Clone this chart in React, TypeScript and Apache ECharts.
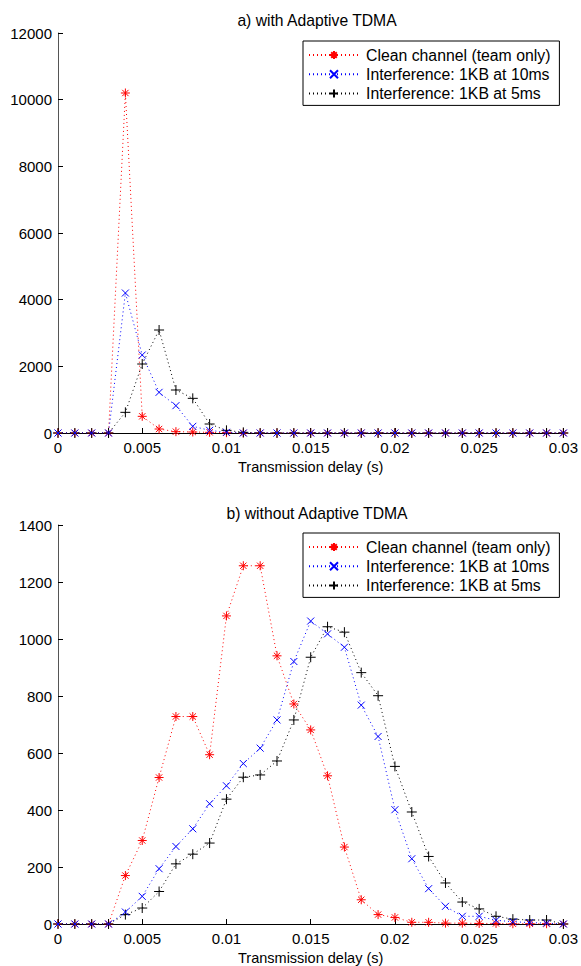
import React, { useEffect, useRef } from "react";
import * as echarts from "echarts";

const delays = Array.from({ length: 31 }, (_, i) => +(i * 0.001).toFixed(3));
const seriesNames = [
  "Clean channel (team only)",
  "Interference: 1KB at 10ms",
  "Interference: 1KB at 5ms",
];

// a) with Adaptive TDMA
const aClean = [0, 0, 0, 0, 10200, 500, 120, 40, 30, 20, 10, 0, 0, 0, 0, 0, 0, 0, 0, 0, 0, 0, 0, 0, 0, 0, 0, 0, 0, 0, 0];
const a10ms = [0, 0, 0, 0, 4200, 2340, 1220, 820, 200, 80, 20, 0, 0, 0, 0, 0, 0, 0, 0, 0, 0, 0, 0, 0, 0, 0, 0, 0, 0, 0, 0];
const a5ms = [0, 0, 0, 0, 620, 2070, 3090, 1290, 1040, 270, 80, 20, 0, 0, 0, 0, 0, 0, 0, 0, 0, 0, 0, 0, 0, 0, 0, 0, 0, 0, 0];

// b) without Adaptive TDMA
const bClean = [0, 0, 0, 0, 170, 293, 514, 728, 728, 594, 1081, 1257, 1257, 941, 772, 681, 520, 270, 85, 33, 23, 6, 6, 3, 3, 2, 2, 1, 1, 1, 0];
const b10ms = [0, 0, 0, 0, 42, 97, 194, 272, 334, 422, 485, 563, 617, 716, 921, 1063, 1018, 971, 768, 658, 401, 229, 124, 62, 27, 27, 13, 8, 5, 3, 0];
const b5ms = [0, 0, 0, 0, 33, 56, 114, 211, 245, 284, 438, 515, 523, 572, 716, 936, 1043, 1024, 882, 801, 553, 393, 237, 144, 77, 53, 27, 17, 14, 14, 0];

const FONT = "Liberation Sans";
const colors = ["#ff0000", "#0000ff", "#000000"];
const symbols = [
  "path://M5 0L5 10M0 5L10 5M1.5 1.5L8.5 8.5M8.5 1.5L1.5 8.5",
  "path://M0 0L10 10M10 0L0 10",
  "path://M5 0L5 10M0 5L10 5",
];
const symbolSizes = [9, 7, 10];

export default function App() {
  const ref = useRef<HTMLDivElement>(null);
  useEffect(() => {
    if (!ref.current) return;
    const chart = echarts.init(ref.current, null, { renderer: "svg" });
    const mk = (name: string, idx: number, data: number[], gi: number) => ({
      name,
      type: "line",
      xAxisIndex: gi,
      yAxisIndex: gi,
      data: delays.map((d, i) => [d, data[i]]),
      symbol: symbols[idx],
      symbolSize: symbolSizes[idx],
      showAllSymbol: true,
      z: idx === 1 ? 4 : idx === 2 ? 3 : 2,
      lineStyle: { color: colors[idx], width: 1, type: [1, 3] },
      itemStyle: { color: "transparent", borderColor: colors[idx], borderWidth: 1 },
      emphasis: { disabled: true },
    });
    const xAxis = (gi: number) => ({
      type: "value",
      gridIndex: gi,
      min: 0,
      max: 0.03,
      interval: 0.005,
      name: "Transmission delay (s)",
      nameLocation: "middle",
      nameGap: 26,
      nameTextStyle: { fontFamily: FONT, fontSize: 14.5, color: "#000" },
      axisLine: { lineStyle: { color: "#000", width: 1 } },
      axisTick: { inside: true, length: 5, lineStyle: { color: "#000" } },
      axisLabel: {
        fontFamily: FONT,
        fontSize: 15,
        color: "#000",
        margin: 7,
        formatter: (v: number) => String(+v.toFixed(3)),
      },
      splitLine: { show: false },
    });
    const yAxis = (gi: number, max: number, interval: number) => ({
      type: "value",
      gridIndex: gi,
      min: 0,
      max,
      interval,
      axisLine: { show: true, lineStyle: { color: "#555", width: 1 } },
      axisTick: { show: true, inside: true, length: 5, lineStyle: { color: "#000" } },
      axisLabel: {
        fontFamily: FONT,
        fontSize: 15,
        color: "#000",
        margin: 6,
        formatter: (v: number) => String(Math.round(v)),
      },
      splitLine: { show: false },
    });
    const legend = (top: number) => ({
      orient: "vertical",
      left: 303,
      top,
      data: seriesNames,
      itemWidth: 50,
      itemHeight: 10,
      itemGap: 3.2,
      padding: [6, 9, 4, 5],
      borderColor: "#000",
      borderWidth: 1,
      backgroundColor: "#fff",
      selectedMode: false,
      textStyle: { fontFamily: FONT, fontSize: 15.8, color: "#000", padding: [0, 0, 0, 2] },
    });
    const titleStyle = { fontFamily: FONT, fontSize: 15.7, fontWeight: "normal", color: "#000" };
    chart.setOption({
      animation: false,
      backgroundColor: "#fff",
      title: [
        { text: "a) with Adaptive TDMA", left: 312, top: 7, textAlign: "center", textStyle: titleStyle },
        { text: "b) without Adaptive TDMA", left: 312, top: 500, textAlign: "center", textStyle: titleStyle },
      ],
      legend: [legend(41), legend(533)],
      grid: [
        { left: 58, right: 14, top: 33, height: 400 },
        { left: 58, right: 14, top: 525, height: 400 },
      ],
      xAxis: [xAxis(0), xAxis(1)],
      yAxis: [yAxis(0, 12000, 2000), yAxis(1, 1400, 200)],
      series: [
        mk(seriesNames[0], 0, aClean, 0),
        mk(seriesNames[1], 1, a10ms, 0),
        mk(seriesNames[2], 2, a5ms, 0),
        mk(seriesNames[0], 0, bClean, 1),
        mk(seriesNames[1], 1, b10ms, 1),
        mk(seriesNames[2], 2, b5ms, 1),
      ],
    });
    return () => chart.dispose();
  }, []);
  return (
    <div
      ref={ref}
      style={{ position: "absolute", left: 0, top: 0, width: 581, height: 966 }}
    />
  );
}
